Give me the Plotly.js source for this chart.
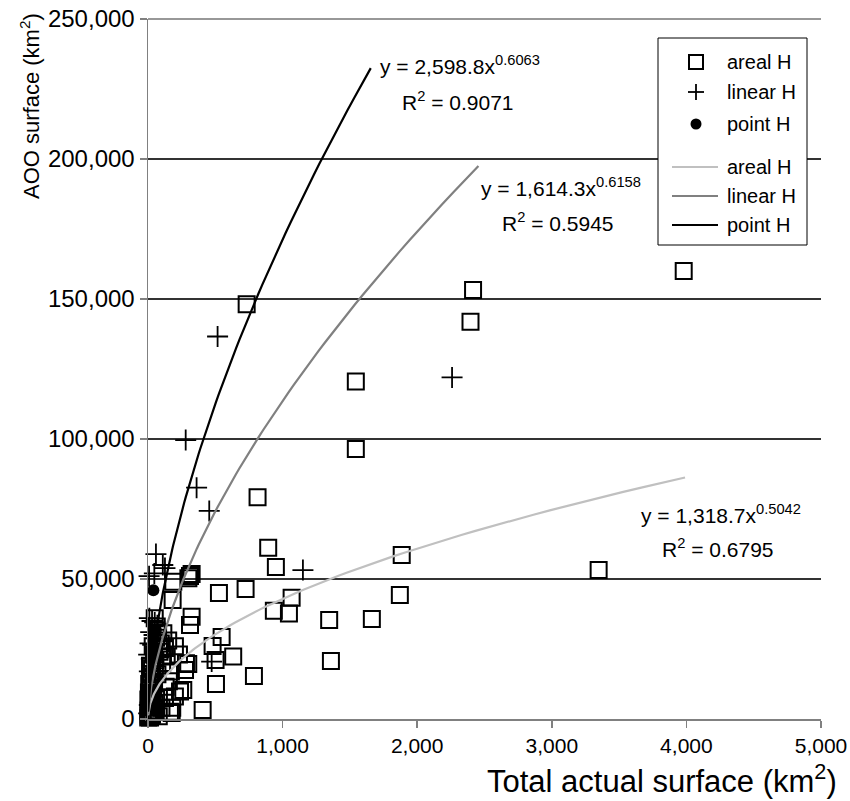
<!DOCTYPE html>
<html>
<head>
<meta charset="utf-8">
<script src="https://cdn.plot.ly/plotly-3.0.1.min.js"></script>
<style>
  html, body { margin: 0; padding: 0; background: #fff; }
  #chart { width: 850px; height: 801px; }
</style>
</head>
<body>
<div id="chart"></div>
<script>
// ---- Data ----
const arealX = [3980, 2415, 2396, 1544, 1544, 733, 814, 893, 950, 3348, 1885, 1871, 1663, 1346, 1359,
  1067, 1047, 935, 725, 527, 547, 480, 633, 502, 787, 505, 406, 324, 312, 300, 188, 183, 324, 312,
  299, 282, 275, 262, 238, 163, 176, 126, 131, 139, 102, 114, 126,
  5, 10, 15, 20, 30, 8, 25, 40, 12, 35, 50, 60, 20, 45, 70, 30, 55, 85, 95, 75, 65, 180, 200, 155, 170, 105, 150, 200, 230,
  2, 4, 6, 3, 7, 12, 18, 22, 28, 9, 16, 38, 48, 15, 25, 45, 35, 60, 50, 80, 100];
const arealY = [160000, 153200, 141900, 120500, 96400, 148100, 79200, 61200, 54300, 53200, 58600, 44300, 35700, 35400, 20700,
  43300, 37700, 38700, 46400, 45000, 29300, 26100, 22300, 21100, 15400, 12500, 3200, 51800, 51100, 50300, 49000, 42500, 36500, 33600,
  19600, 19900, 17500, 10400, 9800, 2600, 2100, 7500, 11500, 22300, 25800, 30600, 25400,
  1000, 2000, 500, 3000, 1500, 5000, 6000, 4000, 8000, 9000, 2500, 7000, 11000, 13000, 16000, 18000, 21000, 24000, 27000, 31000, 33000, 4000, 8000, 13500, 17000, 20000, 28000, 26000, 23000,
  500, 3000, 1500, 7000, 9500, 4500, 6500, 1200, 8500, 12500, 14500, 11000, 5500, 19000, 16000, 23000, 26000, 29000, 36000, 1000, 4000];

const linearX = [2259, 517, 280, 361, 455, 1151, 473, 59, 47, 126, 110, 8,
  10, 30, 50, 70, 20, 45, 15, 35, 60, 5, 25, 80, 40, 10, 55, 20, 30, 10, 5];
const linearY = [122000, 136600, 99600, 82600, 74300, 53200, 20500, 58900, 52000, 53900, 55000, 51000,
  36000, 35000, 34500, 33500, 31000, 30000, 27000, 26500, 25000, 23000, 21500, 22000, 19000, 17000, 15000, 12000, 8000, 5000, 2000];

const pointX = [40, 58, 40, 30, 25, 15, 10, 5, 2, 20, 35];
const pointY = [46000, 31800, 29000, 25000, 21000, 15000, 10000, 6000, 3000, 17500, 27000];

// Power trendlines y = a * x^b (coefficients as printed in the chart)
const trendNames = ['areal H', 'linear H', 'point H'];
const trendA = [1318.7, 1614.3, 2598.8];
const trendB = [0.5042, 0.6158, 0.6063];
const trendR2 = ['0.6795', '0.5945', '0.9071'];
const trendXmin = [1, 1, 1];
const trendXmax = [3990, 2455, 1655];
const trendColors = ['#c0c0c0', '#808080', '#000000'];

const xTicks = [0, 1000, 2000, 3000, 4000, 5000];
const yTicks = [0, 50000, 100000, 150000, 200000, 250000];

function curve(i) {
  const xs = [], ys = [];
  const n = 200;
  const lo = Math.log(trendXmin[i]), hi = Math.log(trendXmax[i]);
  for (let k = 0; k <= n; k++) {
    const x = Math.exp(lo + (hi - lo) * k / n);
    xs.push(x);
    ys.push(trendA[i] * Math.pow(x, trendB[i]));
  }
  return {xs, ys};
}

const FONT = 'Liberation Sans, Arial, sans-serif';

const traces = [
  {x: arealX, y: arealY, type: 'scatter', mode: 'markers', name: 'areal H', cliponaxis: false,
   marker: {symbol: 'square-open', size: 16, color: '#000', line: {width: 2, color: '#000'}}},
  {x: linearX, y: linearY, type: 'scatter', mode: 'markers', name: 'linear H', cliponaxis: false,
   marker: {symbol: 'cross-thin-open', size: 15, color: '#000', line: {width: 1.8, color: '#000'}}},
  {x: pointX, y: pointY, type: 'scatter', mode: 'markers', name: 'point H', cliponaxis: false,
   marker: {symbol: 'circle', size: 12, color: '#000'}}
];
for (let i = 0; i < 3; i++) {
  const c = curve(i);
  traces.push({x: c.xs, y: c.ys, type: 'scatter', mode: 'lines', name: trendNames[i],
    line: {color: trendColors[i], width: 2.2}, cliponaxis: false});
}

// pixel -> paper helpers (plot area: x 148..821, y 19..719)
function px2x(px) { return (px - 148) / 673; }
function px2y(py) { return (719 - py) / 700; }

const eqPos = [ // [eqX, eqY, r2X, r2Y] in pixels
  [639, 514, 660, 548],
  [479, 187, 500, 222],
  [378, 65, 400, 101]
];
const annotations = [];
for (let i = 0; i < 3; i++) {
  annotations.push({xref: 'paper', yref: 'paper', x: px2x(eqPos[i][0]), y: px2y(eqPos[i][1]),
    xanchor: 'left', yanchor: 'middle', showarrow: false,
    text: 'y = ' + trendA[i].toLocaleString('en-US', {minimumFractionDigits: 1}) + 'x<sup>' + trendB[i].toFixed(4) + '</sup>',
    font: {family: FONT, size: 21, color: '#000'}});
  annotations.push({xref: 'paper', yref: 'paper', x: px2x(eqPos[i][2]), y: px2y(eqPos[i][3]),
    xanchor: 'left', yanchor: 'middle', showarrow: false,
    text: 'R<sup>2</sup> = ' + trendR2[i],
    font: {family: FONT, size: 21, color: '#000'}});
}
annotations.push({xref: 'paper', yref: 'paper', x: px2x(30), y: px2y(106), textangle: -90,
  xanchor: 'center', yanchor: 'middle', showarrow: false,
  text: 'AOO surface (km<sup>2</sup>)', font: {family: FONT, size: 22, color: '#000'}});
annotations.push({xref: 'paper', yref: 'paper', x: px2x(839), y: px2y(779),
  xanchor: 'right', yanchor: 'middle', showarrow: false,
  text: 'Total actual surface (km<sup>2</sup>)', font: {family: FONT, size: 31, color: '#000'}});

// ---- Hand-drawn legend box (shapes + annotations) ----
const legendLabels = ['areal H', 'linear H', 'point H', 'areal H', 'linear H', 'point H'];
const legendRowsPx = [62, 92, 124, 167, 196, 225];
const shapes = [];
// top gridline at 250,000
shapes.push({type: 'line', xref: 'paper', yref: 'paper', x0: 0, x1: 1, y0: 1, y1: 1,
  line: {color: '#333', width: 1.2}, layer: 'below'});
shapes.push({type: 'rect', xref: 'paper', yref: 'paper', x0: px2x(658), x1: px2x(807), y0: px2y(38), y1: px2y(245),
  fillcolor: '#fff', line: {color: '#000', width: 1}, layer: 'above'});
const cx = 696;
// square
shapes.push({type: 'rect', xref: 'paper', yref: 'paper', x0: px2x(cx - 7), x1: px2x(cx + 7),
  y0: px2y(legendRowsPx[0] - 7), y1: px2y(legendRowsPx[0] + 7), line: {color: '#000', width: 2}, layer: 'above'});
// cross
shapes.push({type: 'line', xref: 'paper', yref: 'paper', x0: px2x(cx - 8), x1: px2x(cx + 8),
  y0: px2y(legendRowsPx[1]), y1: px2y(legendRowsPx[1]), line: {color: '#000', width: 1.8}, layer: 'above'});
shapes.push({type: 'line', xref: 'paper', yref: 'paper', x0: px2x(cx), x1: px2x(cx),
  y0: px2y(legendRowsPx[1] - 8), y1: px2y(legendRowsPx[1] + 8), line: {color: '#000', width: 1.8}, layer: 'above'});
// dot
shapes.push({type: 'circle', xref: 'paper', yref: 'paper', x0: px2x(cx - 5.5), x1: px2x(cx + 5.5),
  y0: px2y(legendRowsPx[2] - 5.5), y1: px2y(legendRowsPx[2] + 5.5), fillcolor: '#000', line: {color: '#000', width: 0}, layer: 'above'});
// trend line samples
for (let i = 0; i < 3; i++) {
  shapes.push({type: 'line', xref: 'paper', yref: 'paper', x0: px2x(672), x1: px2x(718),
    y0: px2y(legendRowsPx[3 + i]), y1: px2y(legendRowsPx[3 + i]), line: {color: trendColors[i], width: 2.2}, layer: 'above'});
}
for (let i = 0; i < 6; i++) {
  annotations.push({xref: 'paper', yref: 'paper', x: px2x(725), y: px2y(legendRowsPx[i]),
    xanchor: 'left', yanchor: 'middle', showarrow: false, text: legendLabels[i],
    font: {family: FONT, size: 20, color: '#000'}});
}

const layout = {
  width: 850, height: 801,
  margin: {l: 148, r: 29, t: 19, b: 82, pad: 0},
  paper_bgcolor: '#fff', plot_bgcolor: '#fff',
  showlegend: false,
  font: {family: FONT, size: 21, color: '#000'},
  xaxis: {
    range: [0, 5000], tickvals: xTicks, tickformat: ',d',
    showgrid: false, zeroline: false,
    showline: true, linecolor: '#808080', linewidth: 1.5,
    ticks: 'outside', ticklen: 7, tickcolor: '#808080', tickwidth: 1.5,
    tickfont: {family: FONT, size: 21, color: '#000'}
  },
  yaxis: {
    range: [0, 250000], tickvals: yTicks, tickformat: ',d',
    showgrid: true, gridcolor: '#333', gridwidth: 1.2, zeroline: false,
    showline: true, linecolor: '#808080', linewidth: 1.5,
    ticks: 'outside', ticklen: 7, tickcolor: '#808080', tickwidth: 1.5,
    tickfont: {family: FONT, size: 24, color: '#000'}
  },
  shapes: shapes,
  annotations: annotations
};

Plotly.newPlot('chart', traces, layout, {displayModeBar: false, staticPlot: true});
</script>
</body>
</html>
